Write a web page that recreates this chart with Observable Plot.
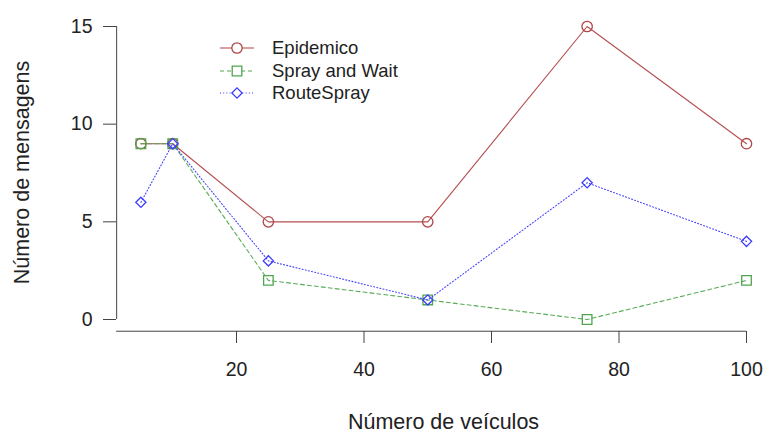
<!DOCTYPE html>
<html>
<head>
<meta charset="utf-8">
<script src="https://cdn.jsdelivr.net/npm/d3@7"></script>
<script src="https://cdn.jsdelivr.net/npm/@observablehq/plot@0.6"></script>
<style>
  body { margin: 0; background: #fff; font-family: "Liberation Sans", Arial, sans-serif; }
  #wrap { position: relative; width: 764px; height: 434px; }
  #legend { position: absolute; left: 218px; top: 37px; font-size: 18.5px; color: #222; }
  #legend .row { display: flex; align-items: center; height: 22.5px; }
  #legend svg { margin-right: 16px; }
</style>
</head>
<body>
<div id="wrap"><div id="legend"></div></div>
<script>
const veiculos = [5, 10, 25, 50, 75, 100];
const epidemico = [9, 9, 5, 5, 15, 9];
const sprayAndWait = [9, 9, 2, 1, 0, 2];
const routeSpray = [6, 9, 3, 1, 7, 4];
const seriesNames = ["Epidemico", "Spray and Wait", "RouteSpray"];
const xTicks = [20, 40, 60, 80, 100];
const yTicks = [0, 5, 10, 15];
const xLimLow = 1.2;   // R's 4% range extension
const xAxisY = -0.6;   // axis line offset below 0

const styles = {
  "Epidemico": {color: "#b04446", dash: null, symbol: "circle", r: 5.2},
  "Spray and Wait": {color: "#4fa64f", dash: "4,3", symbol: "square", r: 5.4},
  "RouteSpray": {color: "#3b3bff", dash: "1,2.2", symbol: "diamond2", r: 4.6}
};

const data = [];
[epidemico, sprayAndWait, routeSpray].forEach((vals, i) => {
  vals.forEach((v, j) => data.push({series: seriesNames[i], x: veiculos[j], y: v}));
});

const marks = [
  Plot.ruleX([xLimLow], {y1: 0, y2: 15, stroke: "#444", strokeWidth: 1}),
  Plot.ruleY([xAxisY], {x1: xLimLow, x2: 100, stroke: "#444", strokeWidth: 1}),
  Plot.axisX(xTicks, {anchor: "bottom", tickSize: 12, tickPadding: 19, fontSize: 19.5, stroke: "#444", fill: "#222", label: null}),
  Plot.axisY(yTicks, {anchor: "left", tickSize: 13, tickPadding: 11, fontSize: 19.5, stroke: "#444", fill: "#222", label: null}),
];
for (const s of seriesNames) {
  const st = styles[s];
  const d = data.filter(r => r.series === s);
  marks.push(Plot.line(d, {x: "x", y: "y", stroke: st.color, strokeWidth: 1.1, strokeDasharray: st.dash, strokeOpacity: 0.95}));
  marks.push(Plot.dot(d, {x: "x", y: "y", stroke: st.color, strokeWidth: 1.3, symbol: st.symbol, r: st.r, fill: "none"}));
}

const chart = Plot.plot({
  width: 764,
  height: 434,
  marginLeft: 116,
  marginRight: 18,
  marginTop: 13,
  marginBottom: 103,
  style: {fontFamily: "Liberation Sans, Arial, sans-serif", background: "#fff"},
  x: {type: "linear", domain: [20, 100], range: [236, 746]},
  y: {type: "linear", domain: [0, 15], range: [319, 26]},
  marks: [
    ...marks,
    Plot.text(["Número de veículos"], {frameAnchor: "bottom", lineAnchor: "middle", textAnchor: "middle", dx: 12, dy: 91, fontSize: 21.5, fill: "#222"}),
    Plot.text(["Número de mensagens"], {frameAnchor: "left", lineAnchor: "middle", textAnchor: "middle", dx: -94, rotate: -90, fontSize: 21.5, fill: "#222"})
  ]
});
document.getElementById("wrap").prepend(chart);

// legend
const legend = d3.select("#legend");
for (const s of seriesNames) {
  const st = styles[s];
  const row = legend.append("div").attr("class", "row");
  const svg = row.append("svg").attr("width", 38).attr("height", 14);
  svg.append("line").attr("x1", 2).attr("x2", 36).attr("y1", 7).attr("y2", 7)
    .attr("stroke", st.color).attr("stroke-width", 1.1).attr("stroke-dasharray", st.dash);
  const type = st.symbol === "circle" ? d3.symbolCircle : st.symbol === "square" ? d3.symbolSquare : d3.symbolDiamond2;
  const sym = d3.symbol().type(type).size(Math.PI * st.r * st.r);
  svg.append("path").attr("d", sym()).attr("transform", "translate(19,7)")
    .attr("fill", "#fff").attr("stroke", st.color).attr("stroke-width", 1.3);
  row.append("span").text(s);
}
</script>
</body>
</html>
